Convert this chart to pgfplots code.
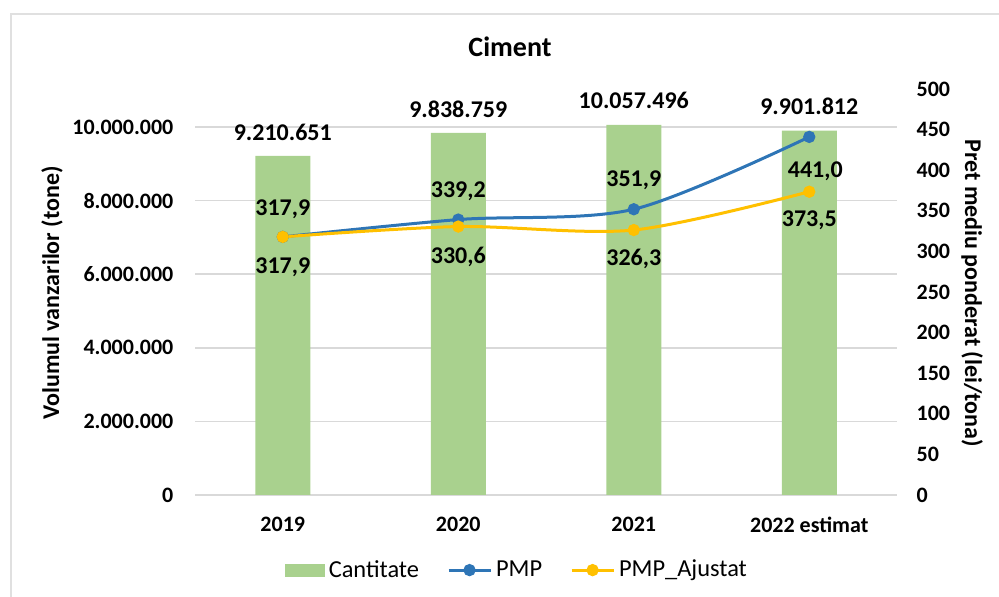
\documentclass[border=0pt]{standalone}
\usepackage{fontspec}
\setmainfont{Carlito}
\usepackage{pgfplots}
\usepackage{pgfplotstable}
\pgfplotsset{compat=1.18}

\definecolor{barg}{HTML}{A9D18E}
\definecolor{pmpblue}{HTML}{2E75B6}
\definecolor{pmpyel}{HTML}{FFC000}
\definecolor{gridg}{HTML}{D9D9D9}
\definecolor{framec}{HTML}{E0E0E0}

% cantitate (tone)
\pgfplotstableread{
x y lbl
0 9210651 9.210.651
1 9838759 9.838.759
2 10057496 10.057.496
3 9901812 9.901.812
}\cantitate

% pret mediu ponderat (lei/tona)
\pgfplotstableread{
x y lbl dx dy
0 317.9 317,9 0 14
1 339.2 339,2 0 14
2 351.9 351,9 0 14.5
3 441.0 441,0 3 -17
}\pmp

\pgfplotstableread{
x y lbl dx dy
0 317.9 317,9 0 -15
1 330.6 330,6 0 -15
2 326.3 326,3 0 -14.5
3 373.5 373,5 0 -14.5
}\pmpaj

\tikzset{lbl/.style={font=\bfseries\fontsize{12}{14}\selectfont}}
\pgfplotsset{
  base/.style={
    scale only axis,
    width=351pt, height=203pt,
    at={(97.5pt,51pt)}, anchor=south west,
    xmin=-0.5, xmax=3.5,
    axis line style={draw=none},
    major tick style={draw=none},
    scaled y ticks=false,
    /pgf/number format/assume math mode=true,
    ticklabel style={font=\bfseries\fontsize{11}{13}\selectfont},
  },
}

\begin{document}
\begin{tikzpicture}[x=0.5pt, y=0.5pt]
\path[use as bounding box] (0,0) rectangle (999,597);
\draw[framec, line width=0.9pt] (11,0) -- (11,583) -- (999,583);

\begin{axis}[base,
  ymin=0, ymax=11.03e6,
  ytick={0,2e6,4e6,6e6,8e6,10e6},
  yticklabels={0,2.000.000,4.000.000,6.000.000,8.000.000,10.000.000},
  yticklabel style={xshift=-7.3pt},
  ymajorgrids, grid style={gridg, line width=0.75pt},
  xtick={0,1,2,3},
  xticklabels={2019,2020,2021,2022 estimat},
  xticklabel style={yshift=-3pt},
  ybar, bar width=27.5pt,
]
\addplot[fill=barg, draw=none,
  nodes near coords, point meta=explicit symbolic,
  nodes near coords style={lbl, anchor=center, yshift=12pt}]
  table[x=x, y=y, meta=lbl] {\cantitate};
\end{axis}

\begin{axis}[base,
  ymin=0, ymax=500,
  ytick={0,50,...,500},
  axis y line*=right, axis x line=none,
  yticklabel style={anchor=west, xshift=6.3pt},
  legend columns=3,
  legend style={draw=none, fill=none, font=\fontsize{12.2}{14}\selectfont,
    at={(axis description cs:0.46,-0.185)}, anchor=center,
    /tikz/every even column/.append style={column sep=12pt},
    nodes={inner xsep=2pt}},
  legend image code/.code={\draw[mark repeat=2,mark phase=2,#1]
    plot coordinates {(0pt,0pt) (10.5pt,0pt) (21pt,0pt)};},
]
\addlegendimage{legend image code/.code={\fill[barg] (0pt,-3pt) rectangle (19.5pt,3pt);}}
\addlegendentry{Cantitate}
\addplot[pmpblue, line width=1.5pt, smooth, mark=*, mark size=2.3pt,
  mark options={solid},
  nodes near coords, point meta=explicit symbolic,
  visualization depends on={\thisrow{dx}\as\dx},
  visualization depends on={\thisrow{dy}\as\dy},
  nodes near coords style={lbl, black, anchor=center, xshift=\dx, yshift=\dy}]
  table[x=x, y=y, meta=lbl] {\pmp};
\addlegendentry{PMP}
\addplot[pmpyel, line width=1.5pt, smooth, mark=*, mark size=2.3pt,
  mark options={solid},
  nodes near coords, point meta=explicit symbolic,
  visualization depends on={\thisrow{dx}\as\dx},
  visualization depends on={\thisrow{dy}\as\dy},
  nodes near coords style={lbl, black, anchor=center, xshift=\dx, yshift=\dy}]
  table[x=x, y=y, meta=lbl] {\pmpaj};
\addlegendentry{PMP\_Ajustat}
\end{axis}

\node[font=\bfseries\fontsize{14}{16}\selectfont] at (510,550) {Ciment};
\node[rotate=90, font=\bfseries\fontsize{12}{14}\selectfont] at (52,304) {Volumul vanzarilor (tone)};
\node[rotate=-90, font=\bfseries\fontsize{12}{14}\selectfont] at (972,304) {Pret mediu ponderat (lei/tona)};
\end{tikzpicture}
\end{document}
